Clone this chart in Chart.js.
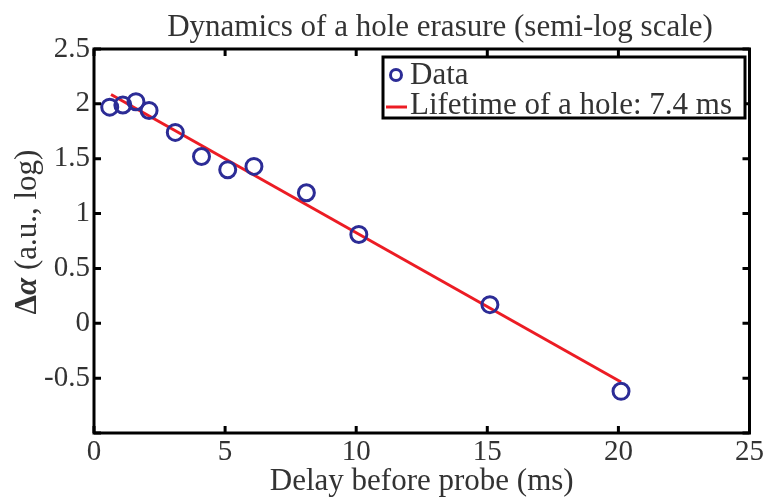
<!DOCTYPE html>
<html>
<head>
<meta charset="utf-8">
<script src="https://cdn.jsdelivr.net/npm/chart.js@4.4.0/dist/chart.umd.min.js"></script>
<style>
  html, body { margin: 0; padding: 0; background: #fff; }
</style>
</head>
<body>
<canvas id="myChart" width="766" height="497"></canvas>
<script>
// measured points (delay in ms, signal on log scale)
const delays = [0.6, 1.1, 1.6, 2.1, 3.1, 4.1, 5.1, 6.1, 8.1, 10.1, 15.1, 20.1];
const logSignal = [1.97, 1.99, 2.02, 1.94, 1.74, 1.52, 1.40, 1.43, 1.19, 0.81, 0.17, -0.62];

// fitted line end points
const fitDelays = [0.65, 20.1];
const fitValues = [2.085, -0.535];

const xTicks = [0, 5, 10, 15, 20, 25];
const yTicks = [-1, -0.5, 0, 0.5, 1, 1.5, 2, 2.5];

const titleText = 'Dynamics of a hole erasure (semi-log scale)';
const xTitle = 'Delay before probe (ms)';
const dataLabel = 'Data';
const fitLabel = 'Lifetime of a hole: 7.4 ms';

const serif = "'Liberation Serif', 'DejaVu Serif', serif";
const textColor = '#333';
const blue = '#2c2c96';
const red = '#ec1c24';

const framePlugin = {
  id: 'frame',
  afterDraw(chart) {
    const ctx = chart.ctx;
    const a = chart.chartArea;
    const xs = chart.scales.x, ys = chart.scales.y;
    ctx.save();
    ctx.strokeStyle = '#000';
    ctx.lineWidth = 3;
    ctx.strokeRect(a.left, a.top, a.right - a.left, a.bottom - a.top);
    ctx.beginPath();
    xTicks.forEach(v => {
      const px = xs.getPixelForValue(v);
      ctx.moveTo(px, a.bottom); ctx.lineTo(px, a.bottom - 7);
      ctx.moveTo(px, a.top); ctx.lineTo(px, a.top + 7);
    });
    yTicks.forEach(v => {
      const py = ys.getPixelForValue(v);
      ctx.moveTo(a.left, py); ctx.lineTo(a.left + 7, py);
      ctx.moveTo(a.right, py); ctx.lineTo(a.right - 7, py);
    });
    ctx.stroke();

    // title
    ctx.fillStyle = textColor;
    ctx.font = '31px ' + serif;
    ctx.textAlign = 'center';
    ctx.textBaseline = 'alphabetic';
    ctx.fillText(titleText, 440, 36);

    // y axis title, with bold delta alpha
    ctx.translate(36, 232);
    ctx.rotate(-Math.PI / 2);
    ctx.textAlign = 'left';
    const boldFont = 'bold 31px ' + serif;
    const boldItal = 'italic bold 31px ' + serif;
    const normFont = '31px ' + serif;
    const parts = [['Δ', boldFont], ['α', boldItal], [' (a.u., log)', normFont]];
    let total = 0;
    parts.forEach(p => { ctx.font = p[1]; total += ctx.measureText(p[0]).width; });
    let x0 = -total / 2;
    parts.forEach(p => {
      ctx.font = p[1];
      ctx.fillText(p[0], x0, 0);
      x0 += ctx.measureText(p[0]).width;
    });
    ctx.restore();

    // legend box
    ctx.save();
    const lx = 383, ly = 57, lw = 362, lh = 61;
    ctx.fillStyle = '#fff';
    ctx.fillRect(lx, ly, lw, lh);
    ctx.strokeStyle = '#000';
    ctx.lineWidth = 3;
    ctx.strokeRect(lx, ly, lw, lh);
    ctx.strokeStyle = blue;
    ctx.beginPath();
    ctx.arc(396, 75, 5.5, 0, Math.PI * 2);
    ctx.stroke();
    ctx.strokeStyle = red;
    ctx.beginPath();
    ctx.moveTo(386, 107); ctx.lineTo(407, 107);
    ctx.stroke();
    ctx.fillStyle = textColor;
    ctx.font = '31px ' + serif;
    ctx.textAlign = 'left';
    ctx.textBaseline = 'alphabetic';
    ctx.fillText(dataLabel, 410, 84);
    ctx.fillText(fitLabel, 410, 114);
    ctx.restore();
  }
};

const ctx = document.getElementById('myChart').getContext('2d');
new Chart(ctx, {
  type: 'scatter',
  data: {
    datasets: [
      {
        label: fitLabel,
        type: 'line',
        data: fitDelays.map((d, i) => ({ x: d, y: fitValues[i] })),
        borderColor: red,
        borderWidth: 3,
        pointRadius: 0,
        fill: false,
        order: 2
      },
      {
        label: dataLabel,
        data: delays.map((d, i) => ({ x: d, y: logSignal[i] })),
        pointStyle: 'circle',
        pointRadius: 8,
        pointBorderWidth: 3,
        pointBorderColor: blue,
        pointBackgroundColor: 'rgba(0,0,0,0)',
        order: 1
      }
    ]
  },
  options: {
    responsive: false,
    animation: false,
    layout: { padding: { top: 49, right: 15, left: 0, bottom: 0 } },
    plugins: {
      legend: { display: false },
      title: { display: false },
      tooltip: { enabled: false }
    },
    scales: {
      x: {
        type: 'linear',
        min: 0,
        max: 25,
        afterFit: s => { s.height = 64; },
        afterBuildTicks: s => { s.ticks = xTicks.map(v => ({ value: v })); },
        grid: { display: false, drawTicks: false },
        border: { display: false },
        ticks: {
          padding: 2,
          color: textColor,
          font: { family: serif, size: 29 }
        },
        title: {
          display: true,
          text: xTitle,
          color: textColor,
          padding: { top: 0, bottom: 0 },
          font: { family: serif, size: 31, lineHeight: 1 }
        }
      },
      y: {
        type: 'linear',
        min: -1,
        max: 2.5,
        afterFit: s => { s.width = 94; },
        afterBuildTicks: s => { s.ticks = yTicks.map(v => ({ value: v })); },
        grid: { display: false, drawTicks: false },
        border: { display: false },
        ticks: {
          padding: 4,
          color: textColor,
          font: { family: serif, size: 29 },
          callback: v => (v === -1 ? '' : String(v))
        }
      }
    }
  },
  plugins: [framePlugin]
});
</script>
</body>
</html>
